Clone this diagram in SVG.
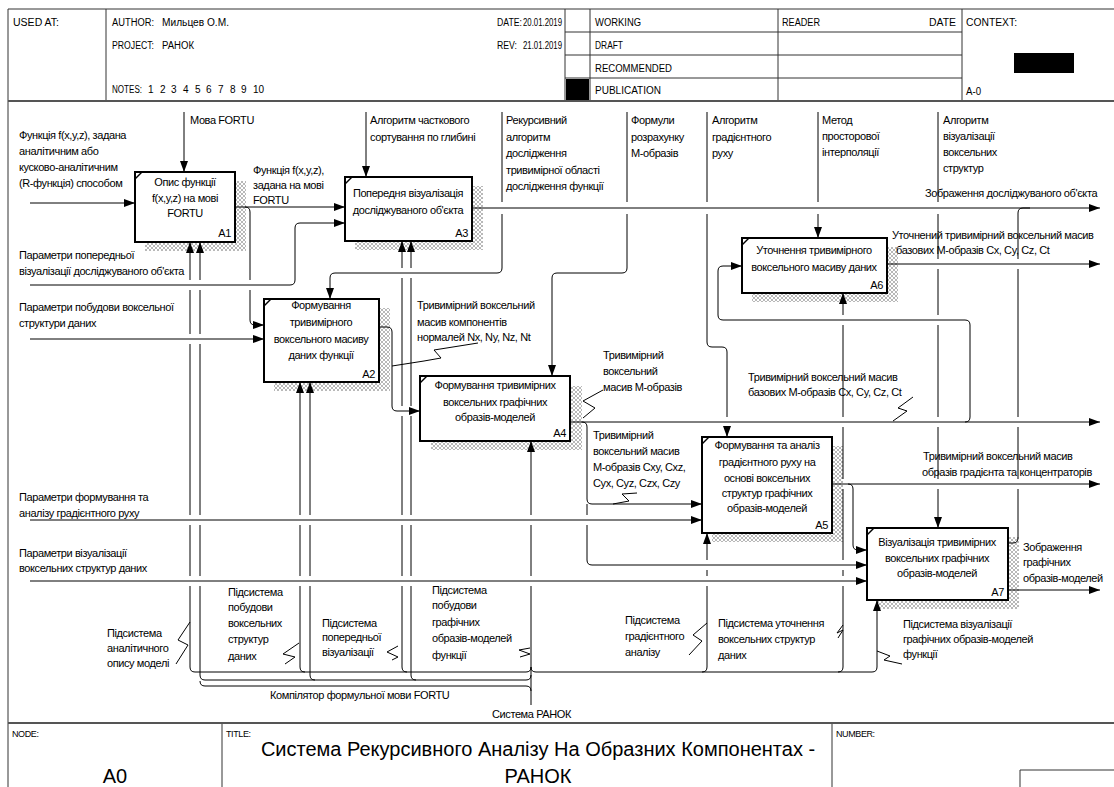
<svg xmlns="http://www.w3.org/2000/svg" width="1114" height="787" viewBox="0 0 1114 787">
<defs>
<style>
text{font-family:"Liberation Sans",Arial,sans-serif;fill:#000}
.t{font-size:11px;letter-spacing:-0.4px}
.hd{font-size:10px}
.sm{font-size:9px;letter-spacing:-0.4px}
.big{font-size:20px}
.c{text-anchor:middle}
.r{text-anchor:end}
.fr{fill:none;stroke:#333;stroke-width:1}
.fb{fill:none;stroke:#555;stroke-width:2}
.ln{fill:none;stroke:#000;stroke-width:1}
.a{marker-end:url(#ah)}
.box{fill:#fff;stroke:#000;stroke-width:2}
.sh{fill:url(#hatch)}
.tk{stroke:#000;stroke-width:1.5}
</style>
<pattern id="hatch" width="4" height="4" patternUnits="userSpaceOnUse">
<rect width="4" height="4" fill="#fff"/>
<path d="M0,0L4,4M4,0L0,4" stroke="#9a9a9a" stroke-width="0.7"/>
</pattern>
<marker id="ah" markerWidth="11" markerHeight="8" refX="11" refY="4" orient="auto" markerUnits="userSpaceOnUse">
<path d="M0,0L11,4L0,8z" fill="#000"/>
</marker>
</defs>
<rect width="1114" height="787" fill="#fff"/>

<g id="frame">
<path class="fr" d="M8,9H1114M8,9V787M106,9V101M565,9V101M590,9V101M778,9V101M962,9V101M565,32H962M565,55H962M565,78H962M222,723V787M832,723V787M1020,787V770H1114"/>
<path class="fb" d="M8,101H1114M8,723H1114"/>
<rect x="566" y="79" width="23" height="21" fill="#000"/>
<rect x="1014" y="53" width="60" height="20" fill="#000"/>
<text class="hd" x="13" y="26" textLength="46" lengthAdjust="spacingAndGlyphs">USED AT:</text>
<text class="hd" x="112" y="26" textLength="42" lengthAdjust="spacingAndGlyphs">AUTHOR:</text>
<text class="hd" x="162" y="26" textLength="67" lengthAdjust="spacingAndGlyphs">Мильцев О.М.</text>
<text class="hd" x="112" y="49" textLength="42" lengthAdjust="spacingAndGlyphs">PROJECT:</text>
<text class="hd" x="162" y="49" textLength="32" lengthAdjust="spacingAndGlyphs">РАНОК</text>
<text class="hd" x="112" y="93" textLength="30" lengthAdjust="spacingAndGlyphs">NOTES:</text>
<text class="hd" y="93"><tspan x="148">1</tspan><tspan x="160">2</tspan><tspan x="171">3</tspan><tspan x="183">4</tspan><tspan x="195">5</tspan><tspan x="206">6</tspan><tspan x="218">7</tspan><tspan x="230">8</tspan><tspan x="241">9</tspan><tspan x="253">10</tspan></text>
<text class="hd" x="497" y="26" textLength="25" lengthAdjust="spacingAndGlyphs">DATE:</text>
<text class="hd" x="523" y="26" textLength="39" lengthAdjust="spacingAndGlyphs">20.01.2019</text>
<text class="hd" x="497" y="49" textLength="20" lengthAdjust="spacingAndGlyphs">REV:</text>
<text class="hd" x="523" y="49" textLength="39" lengthAdjust="spacingAndGlyphs">21.01.2019</text>
<text class="hd" x="595" y="26" textLength="46" lengthAdjust="spacingAndGlyphs">WORKING</text>
<text class="hd" x="595" y="49" textLength="28" lengthAdjust="spacingAndGlyphs">DRAFT</text>
<text class="hd" x="595" y="72" textLength="77" lengthAdjust="spacingAndGlyphs">RECOMMENDED</text>
<text class="hd" x="595" y="94" textLength="66" lengthAdjust="spacingAndGlyphs">PUBLICATION</text>
<text class="hd" x="782" y="26" textLength="38" lengthAdjust="spacingAndGlyphs">READER</text>
<text class="hd" x="929" y="26" textLength="27" lengthAdjust="spacingAndGlyphs">DATE</text>
<text class="hd" x="966" y="26" textLength="51" lengthAdjust="spacingAndGlyphs">CONTEXT:</text>
<text class="hd" x="966" y="95" textLength="15" lengthAdjust="spacingAndGlyphs">A-0</text>
<text class="sm" x="12" y="737">NODE:</text>
<text class="sm" x="226" y="737">TITLE:</text>
<text class="sm" x="836" y="737">NUMBER:</text>
<text class="big c" x="115" y="783">A0</text>
<text class="big c" x="538" y="756">Система Рекурсивного Аналізу На Образних Компонентах -</text>
<text class="big c" x="538" y="783">РАНОК</text>
</g>

<g id="A1">
<rect class="sh" x="145" y="181" width="101" height="70"/>
<rect class="box" x="135" y="172" width="100" height="70"/>
<path class="tk" d="M135,179L142,172"/>
<text class="t c" x="185" y="186">Опис функції</text>
<text class="t c" x="185" y="202">f(x,y,z) на мові</text>
<text class="t c" x="185" y="217">FORTU</text>
<text class="t r" x="231" y="237">A1</text>
</g>
<g id="A3">
<rect class="sh" x="355" y="186" width="128" height="64"/>
<rect class="box" x="345" y="177" width="127" height="64"/>
<path class="tk" d="M345,184L352,177"/>
<text class="t c" x="408" y="197">Попередня візуалізація</text>
<text class="t c" x="408" y="214">досліджуваного об'єкта</text>
<text class="t r" x="468" y="237">A3</text>
</g>
<g id="A2">
<rect class="sh" x="274" y="308" width="116" height="83"/>
<rect class="box" x="264" y="299" width="115" height="83"/>
<path class="tk" d="M264,306L271,299"/>
<text class="t c" x="321" y="309">Формування</text>
<text class="t c" x="321" y="326">тривимірного</text>
<text class="t c" x="321" y="343">воксельного масиву</text>
<text class="t c" x="321" y="359">даних функції</text>
<text class="t r" x="375" y="378">A2</text>
</g>
<g id="A4">
<rect class="sh" x="431" y="386" width="151" height="64"/>
<rect class="box" x="420" y="376" width="150" height="65"/>
<path class="tk" d="M420,383L427,376"/>
<text class="t c" x="495" y="389">Формування тривимірних</text>
<text class="t c" x="495" y="406">воксельних графічних</text>
<text class="t c" x="495" y="421">образів-моделей</text>
<text class="t r" x="566" y="437">A4</text>
</g>
<g id="A6">
<rect class="sh" x="752" y="247" width="146" height="55"/>
<rect class="box" x="742" y="238" width="145" height="55"/>
<path class="tk" d="M742,245L749,238"/>
<text class="t c" x="814" y="254">Уточнення тривимірного</text>
<text class="t c" x="814" y="271">воксельного масиву даних</text>
<text class="t r" x="883" y="289">A6</text>
</g>
<g id="A5">
<rect class="sh" x="712" y="446" width="131" height="96"/>
<rect class="box" x="702" y="437" width="130" height="96"/>
<path class="tk" d="M702,444L709,437"/>
<text class="t c" x="767" y="449">Формування та аналіз</text>
<text class="t c" x="767" y="466">градієнтного руху на</text>
<text class="t c" x="767" y="482">основі воксельних</text>
<text class="t c" x="767" y="497">структур графічних</text>
<text class="t c" x="767" y="512">образів-моделей</text>
<text class="t r" x="828" y="529">A5</text>
</g>
<g id="A7">
<rect class="sh" x="877" y="537" width="142" height="72"/>
<rect class="box" x="867" y="528" width="141" height="72"/>
<path class="tk" d="M867,535L874,528"/>
<text class="t c" x="937" y="546">Візуалізація тривимірних</text>
<text class="t c" x="937" y="562">воксельних графічних</text>
<text class="t c" x="937" y="577">образів-моделей</text>
<text class="t r" x="1004" y="596">A7</text>
</g>

<g id="connectors">
<path class="ln a" d="M30,203H135"/>
<path class="ln a" d="M235,207H345"/>
<path class="ln a" d="M245,207q5,0 5,5V280M250,290V320q0,5 5,5H264"/>
<path class="ln a" d="M30,285H290q5,0 5,-5V228q0,-5 5,-5H345"/>
<path class="ln a" d="M30,339H264"/>
<path class="ln a" d="M30,520H702"/>
<path class="ln a" d="M30,581H867"/>
<path class="ln a" d="M184,112V172"/>
<path class="ln a" d="M366,112V177"/>
<path class="ln a" d="M502,112V202M502,214V268q0,5 -5,5H335q-5,0 -5,5V299"/>
<path class="ln a" d="M627,112V202M627,214V268q0,5 -5,5H557q-5,0 -5,5V376"/>
<path class="ln a" d="M707,112V202M707,214V342q0,5 5,5H722q5,0 5,5V417M727,427V437"/>
<path class="ln a" d="M818,112V202M818,214V238"/>
<path class="ln a" d="M938,112V202M938,214V259M938,269V315M938,325V417M938,427V479M938,489V528"/>
<path class="ln a" d="M472,208H1100"/>
<path class="ln a" d="M887,264H1100"/>
<path class="ln a" d="M570,422H1100"/>
<path class="ln a" d="M965,422q5,0 5,-5V325q0,-5 -5,-5H723q-5,0 -5,-5V271q0,-5 5,-5H742"/>
<path class="ln a" d="M379,327H387q5,0 5,5V406q0,5 5,5H420"/>
<path class="ln a" d="M582,422q5,0 5,5V499q0,5 5,5H702"/>
<path class="ln a" d="M587,504V515M587,525V560q0,5 5,5H867"/>
<path class="ln a" d="M832,484H1100"/>
<path class="ln a" d="M848,484q5,0 5,5V545q0,5 5,5H867"/>
<path class="ln a" d="M1008,590H1100"/>
<path class="ln" d="M1008,543H1013q5,0 5,-5V489M1018,479V427M1018,417V269M1018,259V213q0,-5 5,-5H1030"/>
<path class="ln a" d="M195,672q-5,0 -5,-5V586M190,576V525M190,515V344M190,334V290M190,280V242"/>
<path class="ln a" d="M205,680q-5,0 -5,-5V586M200,576V525M200,515V344M200,334V290M200,280V242"/>
<path class="ln a" d="M305,672q-5,0 -5,-5V586M300,576V525M300,515V382"/>
<path class="ln a" d="M315,680q-5,0 -5,-5V586M310,576V525M310,515V382"/>
<path class="ln a" d="M407,672q-5,0 -5,-5V586M402,576V525M402,515V416M402,406V278M402,268V241"/>
<path class="ln a" d="M416,680q-5,0 -5,-5V586M411,576V525M411,515V416M411,406V278M411,268V241"/>
<path class="ln a" d="M531,705V586M531,576V525M531,515V441"/>
<path class="ln a" d="M702,672q5,0 5,-5V586M707,576V570M707,560V533"/>
<path class="ln a" d="M838,672q5,0 5,-5V586M843,576V570M843,560V489M843,479V427M843,417V325M843,315V293"/>
<path class="ln a" d="M872,672q5,0 5,-5V600"/>
<path class="ln" d="M195,672H526q5,0 5,-5"/>
<path class="ln" d="M205,680H526q5,0 5,-5"/>
<path class="ln" d="M200,681q0,5 5,5H526q5,0 5,5"/>
<path class="ln" d="M531,667q0,5 5,5H872"/>
<path class="ln" d="M478,343L434,350L441,358L424,361L392,366"/>
<path class="ln" d="M603,390L583,401L595,408L583,418"/>
<path class="ln" d="M637,493L622,494L629,501L613,504"/>
<path class="ln" d="M913,397L898,408L907,411L893,421"/>
<path class="ln" d="M190,622L178,640L188,645L176,664"/>
<path class="ln" d="M299,643L283,654L295,657L285,664"/>
<path class="ln" d="M398,646L387,652L398,657L392,660"/>
<path class="ln" d="M530,648L519,650L530,654L520,657"/>
<path class="ln" d="M707,623L693,635L702,641L689,655"/>
<path class="ln" d="M843,625L837,633L843,630L838,638"/>
<path class="ln" d="M877,651L890,656L884,660L902,664"/>
</g>

<g id="labels">
<text class="t" x="19" y="139">Функція f(x,y,z), задана</text>
<text class="t" x="19" y="155">аналітичним або</text>
<text class="t" x="19" y="171">кусково-аналітичним</text>
<text class="t" x="19" y="187">(R-функція) способом</text>
<text class="t" x="190" y="124">Мова FORTU</text>
<text class="t" x="253" y="174">Функція f(x,y,z),</text>
<text class="t" x="253" y="189">задана на мові</text>
<text class="t" x="253" y="204">FORTU</text>
<text class="t" x="19" y="259">Параметри попередньої</text>
<text class="t" x="19" y="275">візуалізації досліджуваного об'єкта</text>
<text class="t" x="19" y="311">Параметри побудови воксельної</text>
<text class="t" x="19" y="327">структури даних</text>
<text class="t" x="19" y="501">Параметри формування та</text>
<text class="t" x="19" y="517">аналізу градієнтного руху</text>
<text class="t" x="19" y="557">Параметри візуалізації</text>
<text class="t" x="19" y="572">воксельних структур даних</text>
<text class="t" x="370" y="124">Алгоритм часткового</text>
<text class="t" x="370" y="141">сортування по глибині</text>
<text class="t" x="506" y="124">Рекурсивний</text>
<text class="t" x="506" y="141">алгоритм</text>
<text class="t" x="506" y="157">дослідження</text>
<text class="t" x="506" y="174">тривимірної області</text>
<text class="t" x="506" y="190">дослідження функції</text>
<text class="t" x="631" y="124">Формули</text>
<text class="t" x="631" y="141">розрахунку</text>
<text class="t" x="631" y="157">М-образів</text>
<text class="t" x="712" y="124">Алгоритм</text>
<text class="t" x="712" y="141">градієнтного</text>
<text class="t" x="712" y="157">руху</text>
<text class="t" x="822" y="124">Метод</text>
<text class="t" x="822" y="140">просторової</text>
<text class="t" x="822" y="156">інтерполяції</text>
<text class="t" x="943" y="124">Алгоритм</text>
<text class="t" x="943" y="140">візуалізації</text>
<text class="t" x="943" y="156">воксельних</text>
<text class="t" x="943" y="172">структур</text>
<text class="t" x="925" y="197">Зображення досліджуваного об'єкта</text>
<text class="t" x="892" y="239">Уточнений тривимірний воксельний масив</text>
<text class="t" x="896" y="254">базових М-образів Cx, Cy, Cz, Ct</text>
<text class="t" x="417" y="309">Тривимірний воксельний</text>
<text class="t" x="417" y="326">масив компонентів</text>
<text class="t" x="417" y="341">нормалей Nx, Ny, Nz, Nt</text>
<text class="t" x="603" y="359">Тривимірний</text>
<text class="t" x="603" y="375">воксельний</text>
<text class="t" x="603" y="391">масив М-образів</text>
<text class="t" x="748" y="381">Тривимірний воксельний масив</text>
<text class="t" x="748" y="396">базових М-образів Cx, Cy, Cz, Ct</text>
<text class="t" x="593" y="439">Тривимірний</text>
<text class="t" x="593" y="455">воксельний масив</text>
<text class="t" x="593" y="471">М-образів Cxy, Cxz,</text>
<text class="t" x="593" y="487">Cyx, Cyz, Czx, Czy</text>
<text class="t" x="923" y="460">Тривимірний воксельний масив</text>
<text class="t" x="922" y="476">образів градієнта та концентраторів</text>
<text class="t" x="1023" y="551">Зображення</text>
<text class="t" x="1023" y="566">графічних</text>
<text class="t" x="1023" y="582">образів-моделей</text>
<text class="t" x="107" y="637">Підсистема</text>
<text class="t" x="107" y="652">аналітичного</text>
<text class="t" x="107" y="667">опису моделі</text>
<text class="t" x="228" y="596">Підсистема</text>
<text class="t" x="228" y="611">побудови</text>
<text class="t" x="228" y="627">воксельних</text>
<text class="t" x="228" y="643">структур</text>
<text class="t" x="228" y="660">даних</text>
<text class="t" x="322" y="627">Підсистема</text>
<text class="t" x="322" y="641">попередньої</text>
<text class="t" x="322" y="656">візуалізації</text>
<text class="t" x="432" y="594">Підсистема</text>
<text class="t" x="432" y="609">побудови</text>
<text class="t" x="432" y="626">графічних</text>
<text class="t" x="432" y="642">образів-моделей</text>
<text class="t" x="432" y="659">функції</text>
<text class="t" x="625" y="624">Підсистема</text>
<text class="t" x="625" y="640">градієнтного</text>
<text class="t" x="625" y="656">аналізу</text>
<text class="t" x="718" y="627">Підсистема уточнення</text>
<text class="t" x="718" y="643">воксельних структур</text>
<text class="t" x="718" y="659">даних</text>
<text class="t" x="903" y="628">Підсистема візуалізації</text>
<text class="t" x="903" y="643">графічних образів-моделей</text>
<text class="t" x="903" y="658">функції</text>
<text class="t" x="270" y="699">Компілятор формульної мови FORTU</text>
<text class="t" x="492" y="718">Система РАНОК</text>
</g>
</svg>
